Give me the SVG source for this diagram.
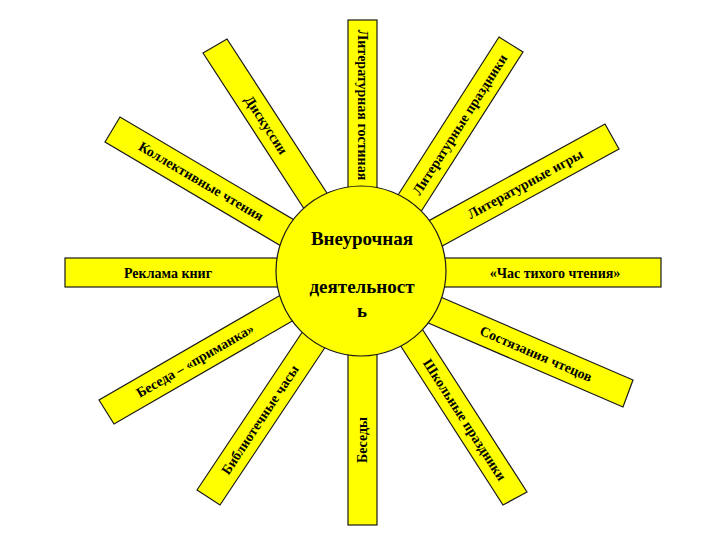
<svg xmlns="http://www.w3.org/2000/svg" width="720" height="540" viewBox="0 0 720 540">
<style>
.ray{fill:#FFFF00;stroke:#1a1a1a;stroke-width:1.2}
.t{font-family:"Liberation Serif","Times New Roman",serif;font-weight:bold;font-size:14px;fill:#000;text-anchor:middle;dominant-baseline:central}
.c{font-family:"Liberation Serif","Times New Roman",serif;font-weight:bold;font-size:19px;fill:#000;text-anchor:middle}
</style>
<rect width="720" height="540" fill="#fff"/>
<g id="ray-lit-gostinaya">
<rect class="ray" x="348" y="20" width="29" height="185"/>
<text class="t" transform="translate(362.5,105) rotate(90)">Литературная гостиная</text>
</g>
<g id="ray-besedy">
<rect class="ray" x="348" y="340" width="29" height="185"/>
<text class="t" transform="translate(362.5,440) rotate(-90)">Беседы</text>
</g>
<g id="ray-reklama">
<rect class="ray" x="65" y="258" width="220" height="29"/>
<text class="t" x="168" y="273">Реклама книг</text>
</g>
<g id="ray-chas">
<rect class="ray" x="440" y="258" width="221" height="29"/>
<text class="t" x="555" y="273">«Час тихого чтения»</text>
</g>
<g id="ray-lit-prazdniki">
<polygon class="ray" points="499,37 523,52 415,221 391,206"/>
<text class="t" transform="translate(460,124.5) rotate(-57.4)">Литературные праздники</text>
</g>
<g id="ray-lit-igry">
<polygon class="ray" points="605,124 619,149 417.5,259.6 403.5,234.6"/>
<text class="t" transform="translate(525.3,184.1) rotate(-28.8)">Литературные игры</text>
</g>
<g id="ray-sostyazaniya">
<polygon class="ray" points="633,380 623,407 412,316 422,289"/>
<text class="t" transform="translate(536,354) rotate(23.3)">Состязания чтецов</text>
</g>
<g id="ray-shkolnye">
<polygon class="ray" points="527,492 503,505 384,320 408,307"/>
<text class="t" transform="translate(464.6,419.9) rotate(57.3)">Школьные праздники</text>
</g>
<g id="ray-bibl-chasy">
<polygon class="ray" points="197,490 220,505 342,322 319,307"/>
<text class="t" transform="translate(260.2,419.8) rotate(-56.4)">Библиотечные часы</text>
</g>
<g id="ray-beseda-primanka">
<polygon class="ray" points="99,400 114,424 313,309 298,285"/>
<text class="t" transform="translate(195.1,360.7) rotate(-30.1)">Беседа – «приманка»</text>
</g>
<g id="ray-kollektivnye">
<polygon class="ray" points="105,142 120,117 318,234 303,259"/>
<text class="t" transform="translate(201,181.5) rotate(30.5)">Коллективные чтения</text>
</g>
<g id="ray-diskussii">
<polygon class="ray" points="203,53 227,39 347,224 323,238"/>
<text class="t" transform="translate(266,125) rotate(57)">Дискуссии</text>
</g>
<g id="center">
<circle class="ray" cx="361" cy="271" r="85"/>
<text class="c" x="362" y="245">Внеурочная</text>
<text class="c" x="362" y="293">деятельност</text>
<text class="c" x="362" y="317">ь</text>
</g>
<g id="connectors"/>
</svg>
